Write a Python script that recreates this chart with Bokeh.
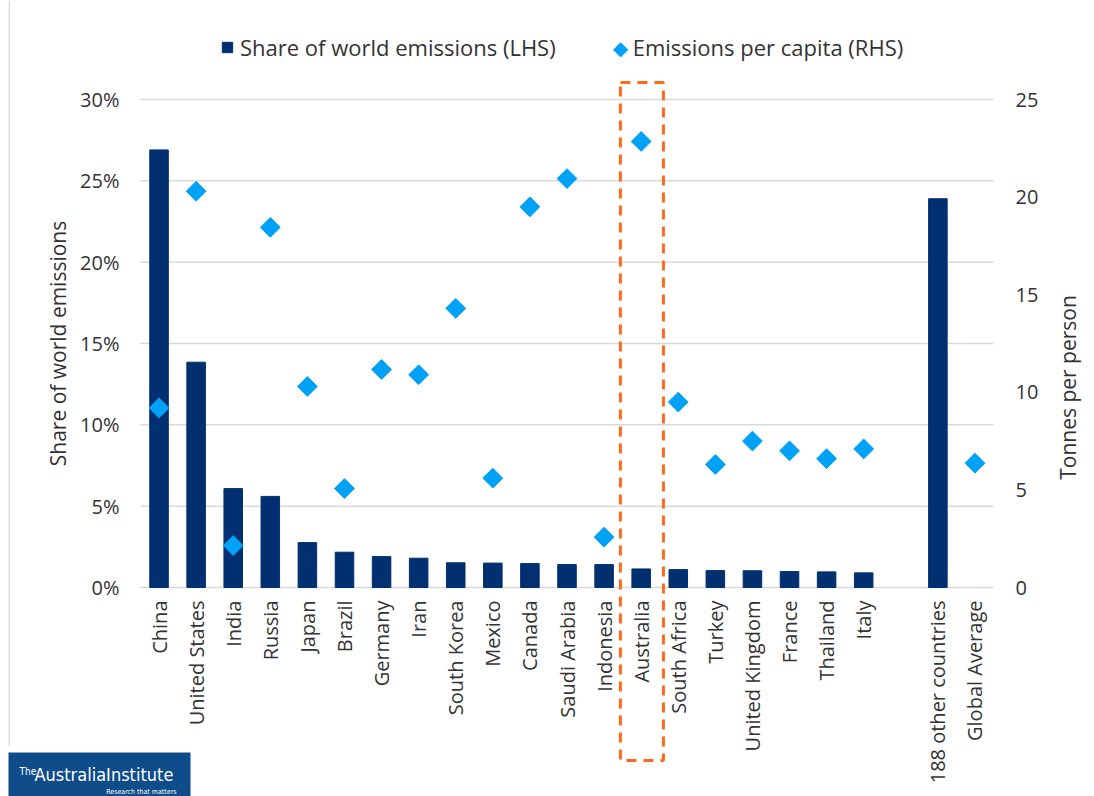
from math import pi
from bokeh.plotting import figure
from bokeh.models import (Range1d, NumeralTickFormatter, FixedTicker,
                          LinearAxis, Legend, LegendItem, BoxAnnotation, Label)
from bokeh.embed import file_html
from bokeh.resources import INLINE

# ---------------- data ----------------
categories = ["China", "United States", "India", "Russia", "Japan", "Brazil", "Germany",
              "Iran", "South Korea", "Mexico", "Canada", "Saudi Arabia", "Indonesia",
              "Australia", "South Africa", "Turkey", "United Kingdom", "France",
              "Thailand", "Italy", "", "188 other countries", "Global Average"]

share_cats = ["China", "United States", "India", "Russia", "Japan", "Brazil", "Germany",
              "Iran", "South Korea", "Mexico", "Canada", "Saudi Arabia", "Indonesia",
              "Australia", "South Africa", "Turkey", "United Kingdom", "France",
              "Thailand", "Italy", "188 other countries"]
share_values = [0.269, 0.1385, 0.0608, 0.056, 0.0276, 0.0217, 0.019, 0.018, 0.0152,
                0.015, 0.0147, 0.0141, 0.0141, 0.0114, 0.011, 0.0104, 0.0103, 0.0098,
                0.0096, 0.009, 0.239]

pc_cats = ["China", "United States", "India", "Russia", "Japan", "Brazil", "Germany",
           "Iran", "South Korea", "Mexico", "Canada", "Saudi Arabia", "Indonesia",
           "Australia", "South Africa", "Turkey", "United Kingdom", "France",
           "Thailand", "Italy", "Global Average"]
pc_values = [9.2, 20.3, 2.15, 18.45, 10.3, 5.07, 11.17, 10.9, 14.3, 5.6, 19.5, 20.95,
             2.58, 22.85, 9.5, 6.3, 7.5, 7.0, 6.6, 7.1, 6.37]

highlight = "Australia"

left_ticks = [0, 0.05, 0.10, 0.15, 0.20, 0.25, 0.30]
right_ticks = [0, 5, 10, 15, 20, 25]

# ---------------- style ----------------
NAVY = "#003070"
CYAN = "#00A2F8"
ORANGE = "#FF6A1A"
GRID = "#D9D9D9"
FONT = "Open Sans"
LOGO_FONT = "'DejaVu Sans Condensed', 'Liberation Sans', sans-serif"
TXT = "#333333"

W, H = 1094, 796
FL, FR, FT, FB = 140, 993, 99, 587          # pixel box of the chart's plotting area
n = len(categories)
step = (FR - FL) / n
ppu_l = (FB - FT) / left_ticks[-1]
ppu_r = (FB - FT) / right_ticks[-1]

x_range = Range1d(-FL / step, n + (W - FR) / step)
y_range = Range1d(-(H - FB) / ppu_l, left_ticks[-1] + FT / ppu_l)
pc_range = Range1d(-(H - FB) / ppu_r, right_ticks[-1] + FT / ppu_r)

p = figure(x_range=x_range, y_range=y_range, width=W, height=H,
           output_backend="svg", toolbar_location=None,
           min_border_left=0, min_border_right=0, min_border_top=0, min_border_bottom=0)
p.title.visible = False
p.outline_line_color = None
p.background_fill_color = "white"
p.border_fill_color = "white"
p.extra_y_ranges = {"pc": pc_range}
p.xgrid.visible = False
p.ygrid.visible = False

pos = {c: i + 0.5 for i, c in enumerate(categories)}

# gridlines across the category span
p.segment(x0=[0] * len(left_ticks), x1=[n] * len(left_ticks), y0=left_ticks,
          y1=left_ticks, line_color=GRID, line_width=1.5)

bars = p.vbar(x=[pos[c] for c in share_cats], top=share_values, width=0.5,
              fill_color=NAVY, line_color=NAVY)
pts = p.scatter(x=[pos[c] for c in pc_cats], y=pc_values, y_range_name="pc",
                marker="square", angle=pi / 4, size=14, fill_color=CYAN, line_color=CYAN)

# legend-only renderers (one point placed outside the visible range)
leg_sq = p.scatter(x=[0.5], y=[-1], marker="square", size=13,
                   fill_color=NAVY, line_color=NAVY)
leg_dm = p.scatter(x=[0.5], y=[-1], marker="square", size=10,
                   fill_alpha=0, line_alpha=0)

# left axis
ya = p.yaxis[0]
ya.fixed_location = 0
ya.bounds = (left_ticks[0], left_ticks[-1])
ya.ticker = FixedTicker(ticks=left_ticks)
ya.formatter = NumeralTickFormatter(format="0%")
ya.axis_line_color = None
ya.major_tick_line_color = None
ya.minor_tick_line_color = None
ya.major_tick_out = 0
ya.major_tick_in = 0
ya.major_label_standoff = 21
ya.major_label_text_font = FONT
ya.major_label_text_font_size = "20px"
ya.major_label_text_color = TXT
ya.axis_label = "Share of world emissions"
ya.axis_label_text_font = FONT
ya.axis_label_text_font_size = "21px"
ya.axis_label_text_font_style = "normal"
ya.axis_label_text_color = TXT
ya.axis_label_standoff = 5

# right axis
ra = LinearAxis(y_range_name="pc", ticker=FixedTicker(ticks=right_ticks))
ra.fixed_location = n
ra.bounds = (right_ticks[0], right_ticks[-1])
ra.axis_line_color = None
ra.major_tick_line_color = None
ra.minor_tick_line_color = None
ra.major_tick_out = 0
ra.major_tick_in = 0
ra.major_label_standoff = 22
ra.major_label_text_font = FONT
ra.major_label_text_font_size = "20px"
ra.major_label_text_color = TXT
p.add_layout(ra, "right")
p.add_layout(Label(x=1067, y=387, x_units="canvas", y_units="canvas",
                   text="Tonnes per person", angle=pi / 2, text_align="center",
                   text_baseline="middle", text_font=FONT, text_font_size="21px",
                   text_color=TXT))

# x axis (category labels)
xa = p.xaxis[0]
xa.fixed_location = 0
xa.ticker = FixedTicker(ticks=[pos[c] for c in categories if c])
xa.major_label_overrides = {pos[c]: c for c in categories if c}
xa.axis_line_color = None
xa.major_tick_line_color = None
xa.minor_tick_line_color = None
xa.major_tick_out = 0
xa.major_tick_in = 0
xa.major_label_orientation = pi / 2
xa.major_label_standoff = 13
xa.major_label_text_font = FONT
xa.major_label_text_font_size = "20px"
xa.major_label_text_color = TXT

# legend
legend = Legend(items=[LegendItem(label="Share of world emissions (LHS)", renderers=[leg_sq]),
                       LegendItem(label="Emissions per capita (RHS)", renderers=[leg_dm])],
                orientation="horizontal", location=(214, H - 63),
                glyph_width=26, glyph_height=32, spacing=51, label_standoff=0,
                label_text_font=FONT, label_text_font_size="22px",
                label_text_color=TXT, border_line_color=None,
                background_fill_alpha=0, padding=0, margin=0)
p.add_layout(legend)
# rotated-square legend symbol for the per-capita series
p.add_layout(Label(x=620, y=47, x_units="canvas", y_units="canvas", text="\u25C6",
                   text_align="center", text_baseline="middle",
                   text_font="DejaVu Sans", text_font_size="20px", text_color=CYAN))

# dashed highlight box around Australia
hx = pos[highlight]
box = BoxAnnotation(left=hx - 0.56, right=hx + 0.6,
                    top=left_ticks[-1] + 17 / ppu_l, bottom=-173 / ppu_l,
                    fill_color=None, fill_alpha=0, line_color=ORANGE, line_alpha=1,
                    line_width=3, line_dash="10 7")
p.add_layout(box)

# thin page border on the left
p.add_layout(BoxAnnotation(left=8, right=9.5, top=0, bottom=745,
                           left_units="canvas", right_units="canvas",
                           top_units="canvas", bottom_units="canvas",
                           fill_color="#DDDDDD", fill_alpha=1, line_color=None,
                           line_alpha=0))

# logo
p.add_layout(BoxAnnotation(left=8, right=190, top=752, bottom=796,
                           left_units="canvas", right_units="canvas",
                           top_units="canvas", bottom_units="canvas",
                           fill_color="#0F4C8A", fill_alpha=1, line_color=None,
                           line_alpha=0))
p.add_layout(Label(x=19, y=765, x_units="canvas", y_units="canvas", text="The",
                   text_font=LOGO_FONT, text_font_size="10px",
                   text_color="white", text_baseline="top"))
p.add_layout(Label(x=34, y=763, x_units="canvas", y_units="canvas",
                   text="AustraliaInstitute", text_font=LOGO_FONT,
                   text_font_size="18px", text_color="white", text_baseline="top"))
p.add_layout(Label(x=176, y=787, x_units="canvas", y_units="canvas",
                   text="Research that matters", text_font=LOGO_FONT,
                   text_font_size="7px", text_color="white", text_baseline="top",
                   text_align="right"))

open("out.html", "w").write(file_html(p, INLINE))
